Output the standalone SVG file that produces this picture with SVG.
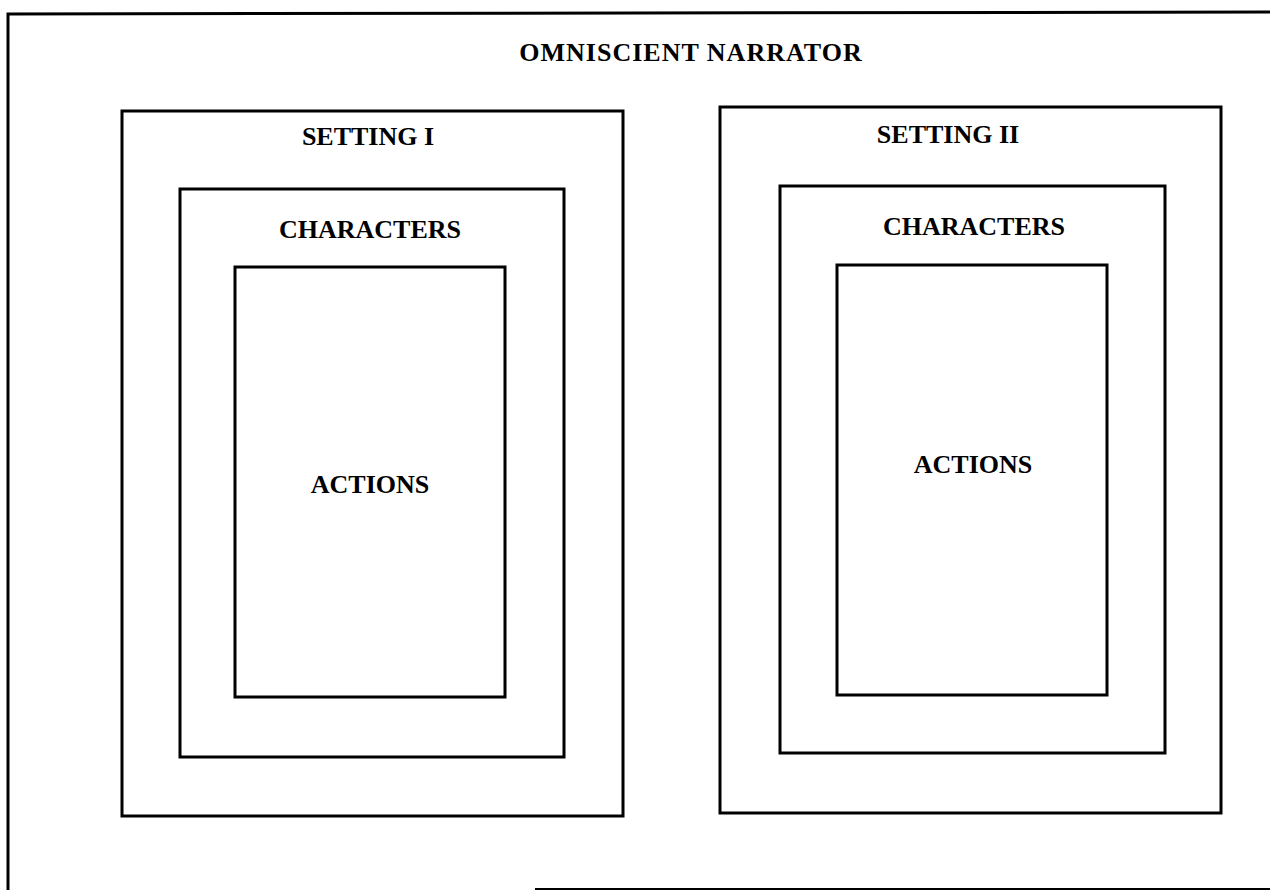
<svg xmlns="http://www.w3.org/2000/svg" width="1270" height="890" viewBox="0 0 1270 890">
<style>
.box{fill:none;stroke:#000;stroke-width:3}
.lbl{font-family:"Liberation Serif","Times New Roman",serif;font-weight:bold;font-size:26px;fill:#000;text-anchor:middle}
</style>
<rect width="1270" height="890" fill="#fff"/>
<g id="frame">
<polyline class="box" points="8,890 8,14 1270,12"/>
<line x1="535" y1="889" x2="1270" y2="889" stroke="#000" stroke-width="2"/>
<text class="lbl" x="691" y="61" style="letter-spacing:1px">OMNISCIENT NARRATOR</text>
</g>
<g id="setting1">
<rect class="box" x="122" y="111" width="501" height="705"/>
<text class="lbl" x="368" y="145">SETTING I</text>
</g>
<g id="characters1">
<rect class="box" x="180" y="189" width="384" height="568"/>
<text class="lbl" x="370" y="238">CHARACTERS</text>
</g>
<g id="actions1">
<rect class="box" x="235" y="267" width="270" height="430"/>
<text class="lbl" x="370" y="493">ACTIONS</text>
</g>
<g id="setting2">
<rect class="box" x="720" y="107" width="501" height="706"/>
<text class="lbl" x="948" y="143">SETTING II</text>
</g>
<g id="characters2">
<rect class="box" x="780" y="186" width="385" height="567"/>
<text class="lbl" x="974" y="235">CHARACTERS</text>
</g>
<g id="actions2">
<rect class="box" x="837" y="265" width="270" height="430"/>
<text class="lbl" x="973" y="473">ACTIONS</text>
</g>
<g id="connectors"/>
</svg>
